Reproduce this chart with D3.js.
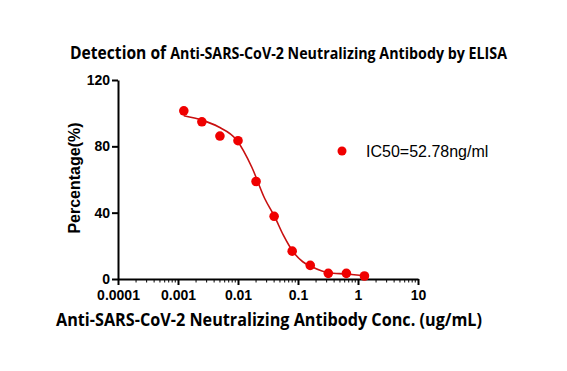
<!DOCTYPE html>
<html>
<head>
<meta charset="utf-8">
<script src="https://cdn.jsdelivr.net/npm/d3@7"></script>
<style>
  body { margin: 0; background: #fff; }
  svg { display: block; }
</style>
</head>
<body>
<div class="chart"></div>
<script>
// measured points (ug/mL vs %)
var conc = [0.00125, 0.0025, 0.005, 0.01, 0.02, 0.04, 0.08, 0.16, 0.32, 0.64, 1.28];
var pct = [101.4, 94.8, 86.2, 83.4, 58.8, 37.8, 16.8, 8.2, 3.4, 3.4, 1.8];

// fitted curve
var fitConc = [0.00125, 0.0025, 0.0047, 0.0095, 0.017, 0.028, 0.041, 0.057, 0.083, 0.12, 0.17, 0.32, 0.64, 1.28];
var fitPct = [98.4, 95.8, 91.8, 83.8, 67.4, 48.4, 37.4, 26.4, 16.4, 10.4, 7.4, 3.8, 3.0, 2.0];

var xTicks = [0.0001, 0.001, 0.01, 0.1, 1, 10];
var xTickLabels = ["0.0001", "0.001", "0.01", "0.1", "1", "10"];
var yTicks = [0, 40, 80, 120];

var legendText = "IC50=52.78ng/ml";

var svgWidth = 567;
var svgHeight = 371;

var margin = { top: 80, right: 149, bottom: 92, left: 118 };
var width = svgWidth - margin.left - margin.right;
var height = svgHeight - margin.top - margin.bottom;

var pointColor = "#f00000";
var lineColor = "#c81010";

var $svg = d3.select(".chart")
    .append("svg")
    .attr("width", svgWidth)
    .attr("height", svgHeight);

var $chartGroup = $svg.append("g")
    .attr("transform", `translate(${margin.left}, ${margin.top})`);

var xScale = d3.scaleLog()
    .domain([0.0001, 10])
    .range([0, width]);

var yScale = d3.scaleLinear()
    .domain([0, 120])
    .range([height, 0]);

// minor ticks on log axis
var minorTicks = [];
xTicks.slice(0, -1).forEach(t => {
    for (var k = 2; k <= 9; k++) minorTicks.push(t * k);
});

$chartGroup.append("g")
    .selectAll("line")
    .data(minorTicks)
    .enter()
    .append("line")
    .attr("x1", d => xScale(d))
    .attr("x2", d => xScale(d))
    .attr("y1", height)
    .attr("y2", height + 3.5)
    .attr("stroke", "black")
    .attr("stroke-width", 1);

var xAxis = d3.axisBottom(xScale)
    .tickValues(xTicks)
    .tickFormat((d, i) => xTickLabels[i])
    .tickSizeInner(6)
    .tickSizeOuter(0)
    .tickPadding(5);

var yAxis = d3.axisLeft(yScale)
    .tickValues(yTicks)
    .tickSizeInner(6)
    .tickSizeOuter(0)
    .tickPadding(2);

var $xAxis = $chartGroup.append("g")
    .attr("transform", `translate(0,${height})`)
    .call(xAxis);

var $yAxis = $chartGroup.append("g")
    .call(yAxis);

[$xAxis, $yAxis].forEach(a => {
    a.select(".domain").attr("stroke", "black").attr("stroke-width", 2);
    a.selectAll(".tick line").attr("stroke", "black").attr("stroke-width", 2);
    a.selectAll(".tick text")
        .attr("fill", "black")
        .style("font-family", "'Liberation Sans', Arial, sans-serif")
        .style("font-weight", "bold")
        .style("font-size", "14px");
});

// fitted line
var line = d3.line()
    .x((d, i) => xScale(fitConc[i]))
    .y(d => yScale(d))
    .curve(d3.curveMonotoneX);

$chartGroup.append("path")
    .datum(fitPct)
    .attr("d", line)
    .attr("fill", "none")
    .attr("stroke", lineColor)
    .attr("stroke-width", 1.6);

$chartGroup.selectAll(".point")
    .data(pct)
    .enter()
    .append("circle")
    .attr("class", "point")
    .attr("cx", (d, i) => xScale(conc[i]))
    .attr("cy", d => yScale(d))
    .attr("r", 4.8)
    .attr("fill", pointColor);

// legend
var $legend = $svg.append("g")
    .attr("transform", "translate(342,151)");

$legend.append("circle")
    .attr("r", 4.5)
    .attr("fill", pointColor);

$legend.append("text")
    .attr("x", 24)
    .attr("dy", "0.35em")
    .style("font-family", "'Liberation Sans', Arial, sans-serif")
    .style("font-size", "16px")
    .attr("fill", "black")
    .text(legendText);

// title
var $title = $svg.append("text")
    .attr("x", 70)
    .attr("y", 59)
    .attr("textLength", 437)
    .attr("lengthAdjust", "spacingAndGlyphs")
    .style("font-family", "'Open Sans', sans-serif")
    .style("font-weight", "bold")
    .attr("fill", "black");

$title.append("tspan")
    .style("font-size", "17px")
    .text("Detection of ");

$title.append("tspan")
    .style("font-size", "15.5px")
    .text("Anti-SARS-CoV-2 Neutralizing Antibody by ELISA");

// axis titles
$svg.append("text")
    .attr("x", 56)
    .attr("y", 326)
    .attr("textLength", 426)
    .attr("lengthAdjust", "spacingAndGlyphs")
    .style("font-family", "'Open Sans', sans-serif")
    .style("font-weight", "bold")
    .style("font-size", "17px")
    .attr("fill", "black")
    .text("Anti-SARS-CoV-2 Neutralizing Antibody Conc. (ug/mL)");

$svg.append("text")
    .attr("transform", `translate(80,${178}) rotate(-90)`)
    .attr("text-anchor", "middle")
    .style("font-family", "'Liberation Sans', Arial, sans-serif")
    .style("font-weight", "bold")
    .style("font-size", "16px")
    .attr("fill", "black")
    .text("Percentage(%)");
</script>
</body>
</html>
